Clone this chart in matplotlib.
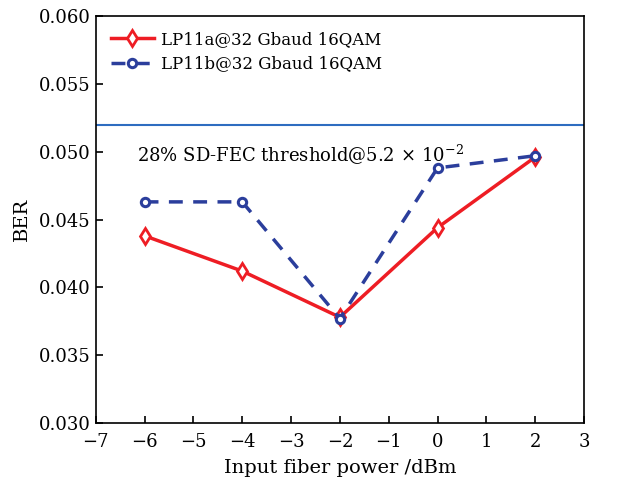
import numpy as np
import matplotlib
matplotlib.use('Agg')
import matplotlib.pyplot as plt

plt.rcParams['font.family'] = 'DejaVu Serif'
plt.rcParams['mathtext.fontset'] = 'dejavuserif'

# datos
potencia = [-6, -4, -2, 0, 2]
ber_lp11a = [0.0438, 0.0412, 0.0378, 0.0444, 0.0496]
ber_lp11b = [0.0463, 0.0463, 0.0377, 0.0488, 0.0497]
umbral = 0.052

etiqueta_a = 'LP11a@32 Gbaud 16QAM'
etiqueta_b = 'LP11b@32 Gbaud 16QAM'

fig = plt.figure(figsize=(6.3, 4.83), dpi=100)
ax = fig.add_axes([0.152, 0.124, 0.775, 0.843])

ax.axhline(umbral, color='#2e6cc0', lw=1.5)
ax.plot(potencia, ber_lp11a, '-', color='#ee1d24', lw=2.5, marker='d',
        ms=8, mfc='white', mec='#ee1d24', mew=2, label=etiqueta_a)
ax.plot(potencia, ber_lp11b, '--', color='#2b3e9c', lw=2.5, marker='o',
        ms=6, mfc='white', mec='#2b3e9c', mew=2.2, dashes=(4, 3), label=etiqueta_b)

ax.text(-6.15, 0.04975, '28% SD-FEC threshold@5.2$\\,\\times\\,10^{-2}$',
        fontsize=13, va='center')

ax.set_xlim(-7, 3)
ax.set_ylim(0.030, 0.060)
ax.set_xticks(np.arange(-7, 4, 1))
ax.set_yticks(np.arange(0.030, 0.0601, 0.005))
ax.set_xticklabels(['\u22127', '\u22126', '\u22125', '\u22124', '\u22123', '\u22122',
                    '\u22121', '0', '1', '2', '3'])
ax.set_yticklabels(['0.030', '0.035', '0.040', '0.045', '0.050', '0.055', '0.060'])
ax.tick_params(direction='in', labelsize=13, length=5, width=1.2)
ax.tick_params(axis='x', pad=7)
for s in ax.spines.values():
    s.set_linewidth(1.2)

ax.set_xlabel('Input fiber power /dBm', fontsize=14, labelpad=6)
ax.set_ylabel('BER', fontsize=14, labelpad=6)
ax.legend(loc='upper left', frameon=False, fontsize=12, handlelength=2.6,
          handletextpad=0.4, borderaxespad=0.5, labelspacing=0.45)

fig.savefig('out.png', dpi=100)
